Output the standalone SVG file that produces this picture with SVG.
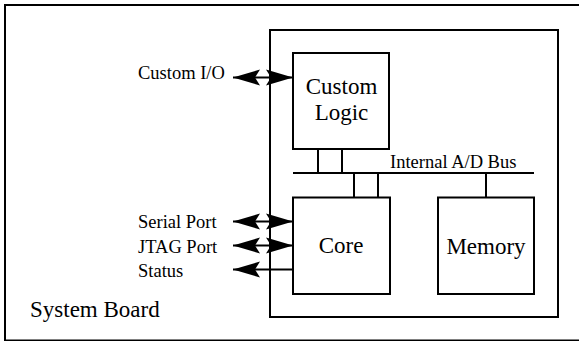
<svg xmlns="http://www.w3.org/2000/svg" width="579" height="341" viewBox="0 0 579 341" font-family="'Liberation Serif', 'Times New Roman', serif">
<style>
.box{fill:#fff;stroke:#000;stroke-width:2}
.ln{stroke:#000;stroke-width:2;fill:none}
text{font-family:"Liberation Serif","Times New Roman",serif;fill:#000}
.big{font-size:23px}
.sm{font-size:18.5px}
</style>
<defs>
<marker id="ah" markerUnits="userSpaceOnUse" markerWidth="32" markerHeight="22" viewBox="-30 -11 32 22" refX="0" refY="0" orient="auto-start-reverse">
<path d="M0,0 L-27,-8 L-22,0 L-27,8 Z" fill="#000"/>
</marker>
</defs>
<rect x="5" y="5" width="620" height="335.5" fill="#fff" stroke="#000" stroke-width="2"/>
<g id="system-board">
<rect class="box" x="270" y="30" width="288" height="287"/>
<text class="big" x="30" y="317">System Board</text>
</g>
<g id="custom-logic">
<rect class="box" x="293" y="53" width="96" height="96"/>
<text class="big" x="341.5" y="94" text-anchor="middle">Custom</text>
<text class="big" x="341.5" y="120" text-anchor="middle">Logic</text>
</g>
<g id="core">
<rect class="box" x="293" y="197.5" width="97" height="96.5"/>
<text class="big" x="341" y="253" text-anchor="middle">Core</text>
</g>
<g id="memory">
<rect class="box" x="438" y="197.5" width="96" height="96.5"/>
<text class="big" x="486" y="254" text-anchor="middle">Memory</text>
</g>
<g id="labels">
<text class="sm" x="138" y="79">Custom I/O</text>
<text class="sm" x="138" y="228">Serial Port</text>
<text class="sm" x="138" y="252.5">JTAG Port</text>
<text class="sm" x="138" y="277">Status</text>
<text class="sm" x="390" y="168">Internal A/D Bus</text>
</g>
<g id="connectors">
<line class="ln" x1="293" y1="173" x2="534" y2="173"/>
<line class="ln" x1="318" y1="149" x2="318" y2="173"/>
<line class="ln" x1="342" y1="149" x2="342" y2="173"/>
<line class="ln" x1="354" y1="173" x2="354" y2="197.5"/>
<line class="ln" x1="378" y1="173" x2="378" y2="197.5"/>
<line class="ln" x1="486" y1="173" x2="486" y2="197.5"/>
<line class="ln" x1="233" y1="77.5" x2="293" y2="77.5" marker-start="url(#ah)" marker-end="url(#ah)"/>
<line class="ln" x1="233" y1="221.5" x2="293" y2="221.5" marker-start="url(#ah)" marker-end="url(#ah)"/>
<line class="ln" x1="233" y1="245.5" x2="293" y2="245.5" marker-start="url(#ah)" marker-end="url(#ah)"/>
<line class="ln" x1="233" y1="269.5" x2="293" y2="269.5" marker-start="url(#ah)"/>
</g>
</svg>
